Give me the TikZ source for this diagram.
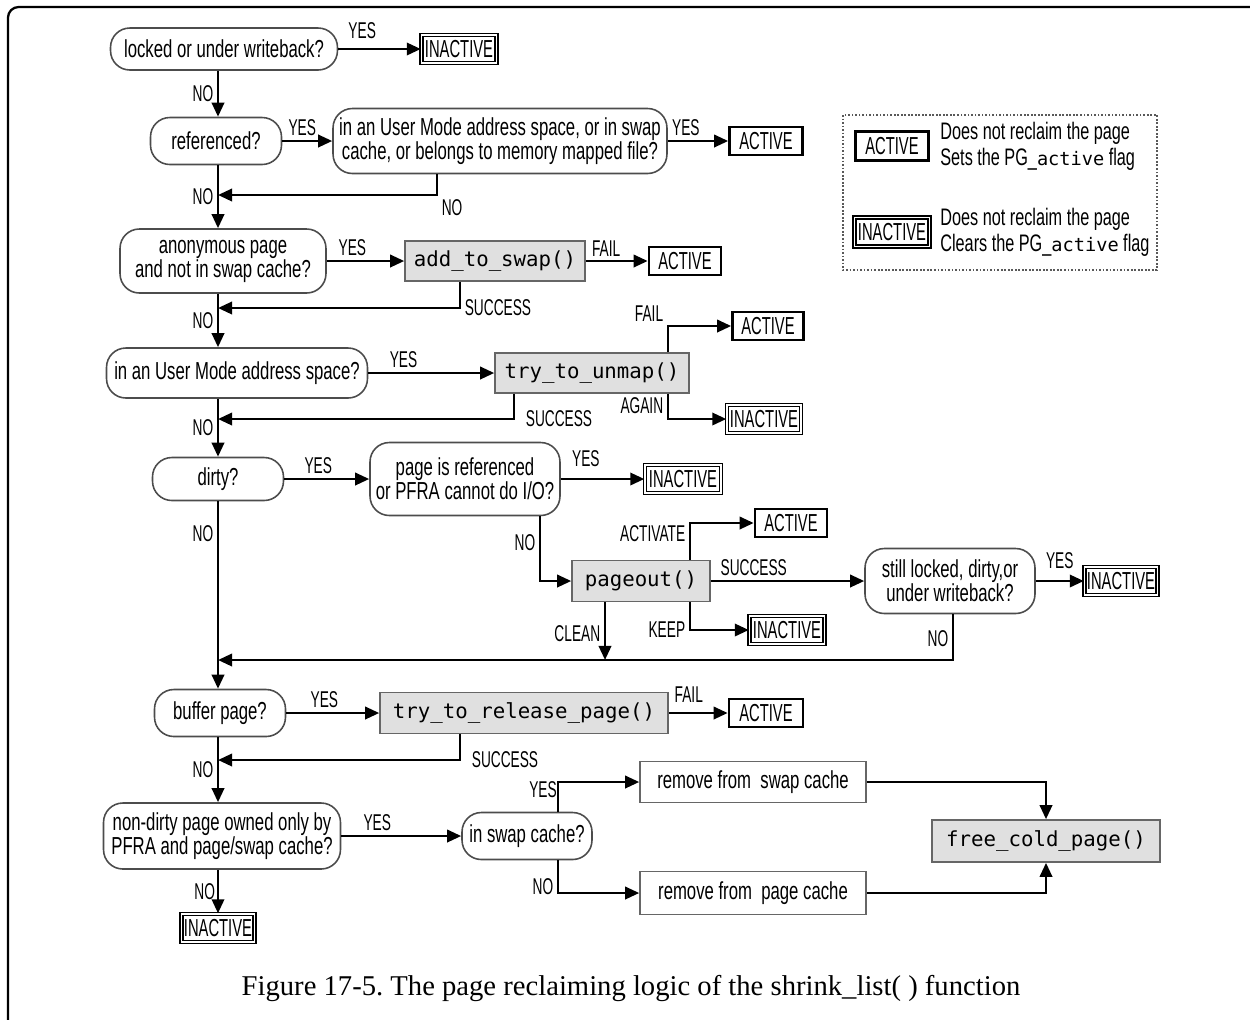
\documentclass[tikz,border=0pt]{standalone}
\usepackage{fontspec}
\newfontfamily\condfont[FakeStretch=0.68]{Liberation Sans}
\newfontfamily\tagfont[FakeStretch=0.6]{Liberation Sans}
\newfontfamily\codefont{DejaVu Sans Mono}
\newfontfamily\capfont{Liberation Serif}
\usetikzlibrary{arrows.meta, calc}

\tikzset{
  ask/.style={draw=black!70, line width=0.9pt, rounded corners=11pt, align=center,
    inner sep=2pt, font=\condfont\fontsize{14}{13.6}\selectfont},
  func/.style={draw=black!60, fill=black!12, line width=0.9pt, inner sep=2pt,
    font=\codefont\fontsize{11.8}{12}\selectfont},
  plainbox/.style={draw=black!60, line width=0.9pt, inner sep=2pt,
    font=\condfont\fontsize{14}{14}\selectfont},
  act/.style={draw, line width=1.5pt, inner sep=1pt, minimum height=0.56cm,
    font=\tagfont\fontsize{14}{14}\selectfont},
  inact/.style={draw, double, line width=0.8pt, double distance=0.9pt, inner sep=0.5pt,
    minimum height=0.56cm, font=\tagfont\fontsize{14}{14}\selectfont},
  lbl/.style={inner sep=2pt, font=\tagfont\fontsize{13}{13}\selectfont},
  arr/.style={line width=1.5pt, -{Triangle[length=8pt,width=7pt]}},
}

\begin{document}
\frenchspacing
\begin{tikzpicture}[x=0.02cm, y=-0.02cm]
\useasboundingbox (0,0) rectangle (1250,1019);

% frame
\draw[line width=1.3pt, rounded corners=6pt] (1252,7) -- (8,7) -- (8,1021);

% main column and merge points
\coordinate (spine) at (218,0);
\coordinate (j1) at (218,195);
\coordinate (j2) at (218,308);
\coordinate (j3) at (218,419);
\coordinate (j4) at (218,660);
\coordinate (j5) at (218,760);

% questions
\node[ask, minimum width=4.54cm, minimum height=0.84cm] (locked) at (224,49) {locked or under writeback?};
\node[ask, minimum width=2.62cm, minimum height=0.94cm] (refd) at (216,141) {referenced?};
\node[ask, minimum width=6.68cm, minimum height=1.3cm] (usermap) at (500,141)
  {in an User Mode address space, or in swap\\cache, or belongs to memory mapped file?};
\node[ask, minimum width=4.12cm, minimum height=1.28cm] (anon) at (223,261) {anonymous page\\and not in swap cache?};
\node[ask, minimum width=5.22cm, minimum height=1.0cm] (usermode) at (237,373) {in an User Mode address space?};
\node[ask, minimum width=2.62cm, minimum height=0.86cm] (dirty) at (218,479) {dirty?};
\node[ask, minimum width=3.8cm, minimum height=1.46cm] (pgref) at (465,479) {page is referenced\\or PFRA cannot do I/O?};
\node[ask, minimum width=3.4cm, minimum height=1.3cm] (still) at (950,581) {still locked, dirty,or\\under writeback?};
\node[ask, minimum width=2.62cm, minimum height=0.94cm] (buffer) at (220,713) {buffer page?};
\node[ask, minimum width=4.74cm, minimum height=1.32cm] (nondirty) at (222,836) {non-dirty page owned only by\\PFRA and page/swap cache?};
\node[ask, minimum width=2.6cm, minimum height=0.94cm] (inswap) at (527,836) {in swap cache?};

% functions
\node[func, minimum width=3.6cm, minimum height=0.8cm] (addswap) at (495,261) {add\_to\_swap()};
\node[func, minimum width=3.88cm, minimum height=0.8cm] (unmap) at (592,373) {try\_to\_unmap()};
\node[func, minimum width=2.76cm, minimum height=0.82cm] (pageout) at (641,581) {pageout()};
\node[func, minimum width=5.76cm, minimum height=0.82cm] (release) at (524,713) {try\_to\_release\_page()};
\node[func, minimum width=4.56cm, minimum height=0.84cm] (freecold) at (1046,841) {free\_cold\_page()};
\node[plainbox, minimum width=4.52cm, minimum height=0.82cm] (rmswap) at (753,782) {remove from\ \ swap cache};
\node[plainbox, minimum width=4.52cm, minimum height=0.86cm] (rmpage) at (753,893) {remove from\ \ page cache};

% outcomes
\node[inact, minimum width=1.5cm] (inact1) at (459,49) {INACTIVE};
\node[act, minimum width=1.46cm] (act1) at (766,141) {ACTIVE};
\node[act, minimum width=1.44cm] (act2) at (685,261) {ACTIVE};
\node[act, minimum width=1.42cm] (act3) at (768,326) {ACTIVE};
\node[inact, minimum width=1.48cm] (inact2) at (764,419) {INACTIVE};
\node[inact, minimum width=1.52cm] (inact3) at (683,479) {INACTIVE};
\node[act, minimum width=1.44cm] (act4) at (791,523) {ACTIVE};
\node[inact, minimum width=1.5cm] (inact4) at (787,630) {INACTIVE};
\node[inact, minimum width=1.46cm] (inact5) at (1121,581) {INACTIVE};
\node[act, minimum width=1.48cm] (act5) at (766,713) {ACTIVE};
\node[inact, minimum width=1.46cm] (inact6) at (218,928) {INACTIVE};

% legend
\draw[black!65, line width=0.8pt, dash pattern=on 1pt off 1pt] (843,115) rectangle (1157,270);
\node[act, minimum width=1.46cm, minimum height=0.58cm] (lact) at (892,146) {ACTIVE};
\node[inact, minimum width=1.5cm, minimum height=0.58cm] (linact) at (892,232) {INACTIVE};
\node[anchor=west, align=left, inner sep=0pt, font=\condfont\fontsize{13.6}{14.7}\selectfont] (ltxt1) at (940,146)
  {Does not reclaim the page\\Sets the PG\_{\codefont\fontsize{10.6}{12}\selectfont active} flag};
\node[anchor=west, align=left, inner sep=0pt, font=\condfont\fontsize{13.6}{14.7}\selectfont] (ltxt2) at (940,232)
  {Does not reclaim the page\\Clears the PG\_{\codefont\fontsize{10.6}{12}\selectfont active} flag};

% connectors
\draw[arr] (locked.east) -- node[lbl, above=3pt, pos=0.29] {YES} (inact1.west);
\draw[arr] (locked.south -| spine) -- node[lbl, left] {NO} (refd.north -| spine);
\draw[arr] (refd.east) -- node[lbl, above, pos=0.4] {YES} (usermap.west);
\draw[arr] (usermap.east) -- node[lbl, above, pos=0.3] {YES} (act1.west);
\draw[arr] ([xshift=-1.26cm]usermap.south) |- node[lbl, pos=0.5, below right] {NO} (j1);
\draw[arr] (refd.south -| spine) -- node[lbl, left] {NO} (anon.north -| spine);

\draw[arr] (anon.east) -- node[lbl, above, pos=0.33] {YES} (addswap.west);
\draw[arr] (addswap.east) -- node[lbl, above, pos=0.33] {FAIL} (act2.west);
\draw[arr] ([xshift=-0.7cm]addswap.south) |- node[lbl, pos=0.5, right] {SUCCESS} (j2);
\draw[arr] (anon.south -| spine) -- node[lbl, left] {NO} (usermode.north -| spine);

\draw[arr] (usermode.east) -- node[lbl, above, pos=0.28] {YES} (unmap.west);
\draw[arr] ([xshift=1.52cm]unmap.north) |- node[lbl, pos=0.5, above left] {FAIL} (act3.west);
\draw[arr] ([xshift=1.52cm]unmap.south) |- node[lbl, pos=0.5, above left] {AGAIN} (inact2.west);
\draw[arr] ([xshift=-1.56cm]unmap.south) |- node[lbl, pos=0.5, right=4pt] {SUCCESS} (j3);
\draw[arr] (usermode.south -| spine) -- node[lbl, left] {NO} (dirty.north -| spine);

\draw[arr] (dirty.east) -- node[lbl, above, pos=0.4] {YES} (pgref.west);
\draw[arr] (pgref.east) -- node[lbl, above=4pt, pos=0.3] {YES} (inact3.west);
\draw[arr] ([xshift=1.5cm]pgref.south) |- node[lbl, pos=0.2, left] {NO} (pageout.west);
\draw[arr] ([xshift=0.98cm]pageout.north) |- node[lbl, pos=0.36, left] {ACTIVATE} (act4.west);
\draw[arr] (pageout.east) -- node[lbl, above, pos=0.28] {SUCCESS} (still.west);
\draw[arr] (still.east) -- node[lbl, above=4pt, pos=0.5] {YES} (inact5.west);
\draw[arr] ([xshift=0.98cm]pageout.south) |- node[lbl, pos=0.5, left] {KEEP} (inact4.west);
\coordinate (cl) at ([xshift=-0.72cm]pageout.south);
\draw[arr] (cl) -- node[lbl, left, pos=0.55] {CLEAN} (cl |- j4);
\draw[arr] ([xshift=0.06cm]still.south) |- node[lbl, pos=0.27, left] {NO} (j4);
\draw[arr] (dirty.south -| spine) -- node[lbl, left, pos=0.17] {NO} (buffer.north -| spine);

\draw[arr] (buffer.east) -- node[lbl, above, pos=0.41] {YES} (release.west);
\draw[arr] (release.east) -- node[lbl, above=3pt, pos=0.34] {FAIL} (act5.west);
\draw[arr] ([xshift=-1.28cm]release.south) |- node[lbl, pos=0.5, right=4pt] {SUCCESS} (j5);
\draw[arr] (buffer.south -| spine) -- node[lbl, left] {NO} (nondirty.north -| spine);

\draw[arr] (nondirty.east) -- node[lbl, above, pos=0.3] {YES} (inswap.west);
\draw[arr] ([xshift=0.62cm]inswap.north) |- node[lbl, pos=0.37, left, inner sep=0pt] {YES} (rmswap.west);
\draw[arr] ([xshift=0.62cm]inswap.south) |- node[lbl, pos=0.4, left] {NO} (rmpage.west);
\draw[arr] (rmswap.east) -| (freecold.north);
\draw[arr] (rmpage.east) -| (freecold.south);
\draw[arr] (nondirty.south -| spine) -- node[lbl, left, inner sep=1pt] {NO} (inact6.north);

% caption
\node[font=\capfont\fontsize{16.3}{16}\selectfont] (caption) at (631,988)
  {Figure 17-5. The page reclaiming logic of the shrink\_list( ) function};

\end{tikzpicture}
\end{document}
